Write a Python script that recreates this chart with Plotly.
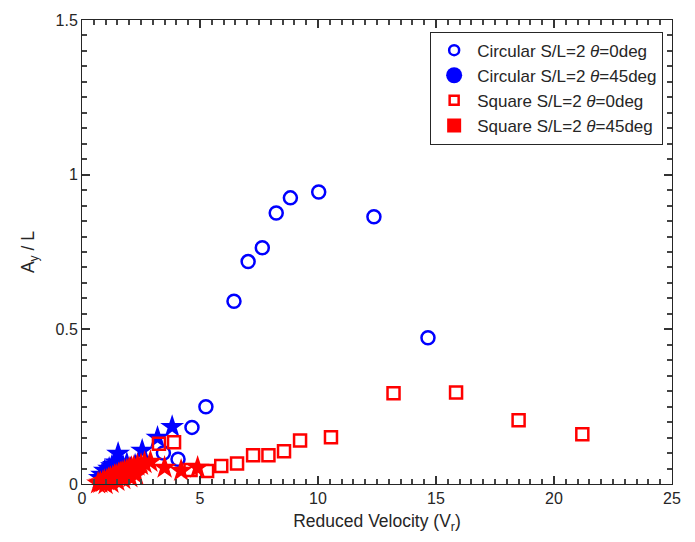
import plotly.graph_objects as go

# Circular S/L=2 theta=0deg (open blue circles)
circ0_x = [1.2, 1.6, 2.0, 2.4, 3.45, 4.07, 4.66, 5.25, 6.44, 7.04, 7.64, 8.23, 8.83, 10.03, 12.37, 14.66]
circ0_y = [0.03, 0.045, 0.05, 0.06, 0.10, 0.08, 0.183, 0.25, 0.591, 0.719, 0.764, 0.876, 0.925, 0.944, 0.864, 0.473]

# Circular S/L=2 theta=45deg (blue stars)
circ45_x = [0.76, 0.85, 0.97, 1.05, 1.15, 1.27, 1.35, 1.45, 1.53, 1.65, 1.75, 1.9, 2.05, 2.25, 2.55, 3.2, 3.82]
circ45_y = [0.02, 0.03, 0.043, 0.04, 0.05, 0.058, 0.062, 0.07, 0.098, 0.06, 0.055, 0.065, 0.05, 0.06, 0.108, 0.15, 0.185]

# Square S/L=2 theta=0deg (open red squares)
sq0_x = [1.0, 1.4, 1.8, 2.2, 3.26, 3.9, 4.6, 5.3, 5.9, 6.57, 7.25, 7.9, 8.56, 9.24, 10.55, 13.2, 15.85, 18.5, 21.2]
sq0_y = [0.01, 0.02, 0.03, 0.04, 0.13, 0.135, 0.045, 0.042, 0.058, 0.066, 0.093, 0.093, 0.106, 0.141, 0.151, 0.293, 0.296, 0.206, 0.161]

# Square S/L=2 theta=45deg (red stars)
sq45_x = [0.68, 0.78, 0.88, 0.95, 1.05, 1.12, 1.2, 1.3, 1.38, 1.45, 1.55, 1.62, 1.7, 1.8, 1.9, 2.0, 2.1, 2.2, 2.35, 2.5, 2.65, 2.9,
          1.0, 1.25, 1.5, 1.75, 2.05, 2.3, 3.5, 4.2, 4.9]
sq45_y = [0.002, 0.004, 0.006, 0.01, 0.012, 0.016, 0.02, 0.022, 0.026, 0.028, 0.032, 0.035, 0.038, 0.042, 0.045, 0.05, 0.052, 0.055, 0.06, 0.062, 0.068, 0.072,
          0.0, 0.004, 0.01, 0.016, 0.022, 0.03, 0.053, 0.043, 0.053]

names = ["Circular S/L=2 <i>θ</i>=0deg", "Circular S/L=2 <i>θ</i>=45deg",
         "Square S/L=2 <i>θ</i>=0deg", "Square S/L=2 <i>θ</i>=45deg"]

X_RANGE = [0, 25]
Y_RANGE = [0, 1.5]

BLUE = "#0000ff"
RED = "#ff0000"
INK = "#262626"
FONT = "Liberation Sans, Arial, Helvetica"

fig = go.Figure()

fig.add_trace(go.Scatter(x=circ0_x, y=circ0_y, mode="markers", showlegend=False, cliponaxis=False,
                         marker=dict(symbol="circle-open", size=13, color=BLUE, line=dict(width=2.5, color=BLUE))))
fig.add_trace(go.Scatter(x=circ45_x, y=circ45_y, mode="markers", showlegend=False, cliponaxis=False,
                         marker=dict(symbol="star", size=18, color=BLUE, line=dict(width=0))))
fig.add_trace(go.Scatter(x=sq0_x, y=sq0_y, mode="markers", showlegend=False, cliponaxis=False,
                         marker=dict(symbol="square-open", size=12, color=RED, line=dict(width=2.5, color=RED))))
fig.add_trace(go.Scatter(x=sq45_x, y=sq45_y, mode="markers", showlegend=False, cliponaxis=False,
                         marker=dict(symbol="star", size=18, color=RED, line=dict(width=0))))

# legend-only entries (legend uses circle/square glyphs as in the reference)
fig.add_trace(go.Scatter(x=[None], y=[None], mode="markers", name=names[0],
                         marker=dict(symbol="circle-open", size=10, color=BLUE, line=dict(width=2.5, color=BLUE))))
fig.add_trace(go.Scatter(x=[None], y=[None], mode="markers", name=names[1],
                         marker=dict(symbol="circle", size=16, color=BLUE)))
fig.add_trace(go.Scatter(x=[None], y=[None], mode="markers", name=names[2],
                         marker=dict(symbol="square-open", size=9, color=RED, line=dict(width=2.5, color=RED))))
fig.add_trace(go.Scatter(x=[None], y=[None], mode="markers", name=names[3],
                         marker=dict(symbol="square", size=14, color=RED)))

axis_common = dict(
    gridcolor="white", zerolinecolor=INK, showline=True, linecolor=INK,
    mirror="ticks", ticks="inside", ticklen=8, tickcolor="#333333", tickwidth=1.5,
    tickfont=dict(family=FONT, size=16, color=INK),
)

fig.update_layout(
    width=695, height=542,
    margin=dict(l=82, r=23, t=17, b=58),
    paper_bgcolor="white", plot_bgcolor="white",
    font=dict(family=FONT, color=INK),
    xaxis=dict(range=X_RANGE, dtick=5,
               title=dict(text="Reduced Velocity (V<sub>r</sub>)", font=dict(size=17.5), standoff=8),
               minor=dict(dtick=0.5, ticks="inside", ticklen=5, tickcolor="#444444", tickwidth=1.5),
               **axis_common),
    yaxis=dict(range=Y_RANGE, dtick=0.5,
               title=dict(text="A<sub>y</sub> / L", font=dict(size=17.5), standoff=16),
               minor=dict(dtick=0.05, ticks="inside", ticklen=5, tickcolor="#444444", tickwidth=1.5),
               **axis_common),
    legend=dict(x=0.985, y=0.975, xanchor="right", yanchor="top",
                bgcolor="white", bordercolor=INK, borderwidth=1,
                font=dict(family=FONT, size=17, color=INK),
                tracegroupgap=0, itemsizing="trace", itemwidth=36),
)

fig.write_html("out.html")
